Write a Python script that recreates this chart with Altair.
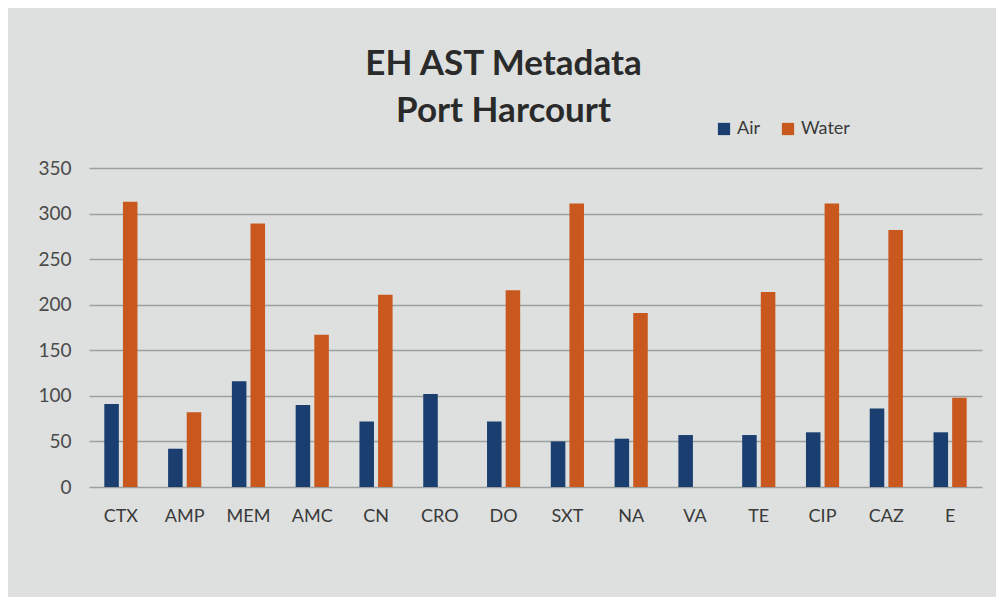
import altair as alt
import pandas as pd

categories = ["CTX", "AMP", "MEM", "AMC", "CN", "CRO", "DO", "SXT", "NA", "VA", "TE", "CIP", "CAZ", "E"]
air = [91, 42, 116, 90, 72, 102, 72, 50, 53, 57, 57, 60, 86, 60]
water = [313, 82, 289, 167, 211, 0, 216, 311, 191, 0, 214, 311, 282, 98]
series = ["Air", "Water"]
colors = ["#1a3e70", "#c9581f"]

rows = []
for i, c in enumerate(categories):
    rows.append({"category": c, "series": "Air", "value": air[i], "order": i})
    rows.append({"category": c, "series": "Water", "value": water[i], "order": i})
df = pd.DataFrame(rows)

chart = alt.Chart(df).mark_bar().encode(
    x=alt.X("category:N", sort=categories,
            scale=alt.Scale(paddingInner=0.48, paddingOuter=0.24),
            axis=alt.Axis(title=None, labelAngle=0, ticks=False, domain=False,
                          labelFontSize=18, labelFont="Lato", labelColor="#3a3a3a",
                          labelPadding=20)),
    xOffset=alt.XOffset("series:N", sort=series,
                        scale=alt.Scale(paddingInner=0.22, paddingOuter=0)),
    y=alt.Y("value:Q", scale=alt.Scale(domain=[0, 350], nice=False),
            axis=alt.Axis(title=None, values=list(range(0, 351, 50)), ticks=False,
                          domain=False, grid=True, gridColor="#9c9f9e", gridWidth=1.3,
                          labelFontSize=19, labelFont="Lato", labelColor="#4a4a4a",
                          labelPadding=18)),
    color=alt.Color("series:N", sort=series,
                    scale=alt.Scale(domain=series, range=colors),
                    legend=alt.Legend(title=None, orient="none", direction="horizontal",
                                      legendX=626, legendY=-48, symbolType="square",
                                      symbolSize=150, symbolStrokeWidth=0,
                                      labelFontSize=18, labelFont="Lato",
                                      labelColor="#3a3a3a", columnPadding=18)),
).properties(
    width=893,
    height=319,
    autosize=alt.AutoSizeParams(type="none"),
    padding={"left": 81, "top": 160, "right": 14, "bottom": 110},
    background="#dde0de",
    title=alt.TitleParams(text=["EH AST Metadata", "Port Harcourt"], fontSize=35,
                          font="Lato", fontWeight="bold", color="#2a2a2a",
                          anchor="middle", dx=-32, offset=-9, lineHeight=47),
).configure_view(stroke=None)

chart.save("out.html", embed_options={"renderer": "svg", "actions": False})
